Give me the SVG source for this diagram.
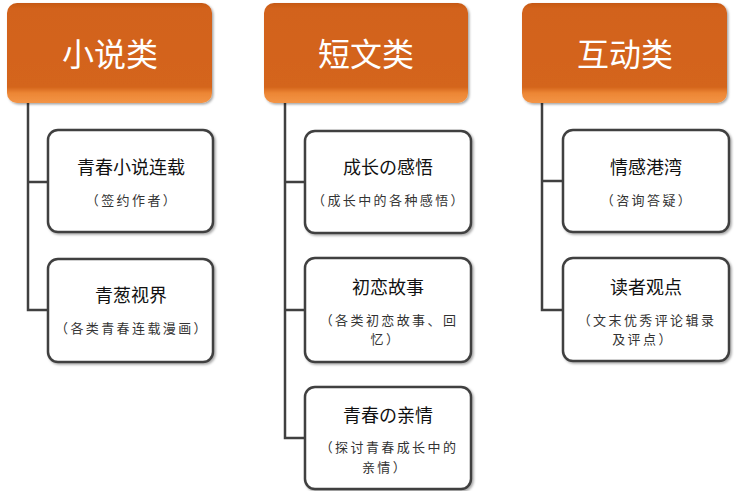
<svg xmlns="http://www.w3.org/2000/svg" width="734" height="491" viewBox="0 0 734 491">
<defs>
<linearGradient id="hg" x1="0" y1="0" x2="0" y2="1">
<stop offset="0" stop-color="#C55815"/>
<stop offset="0.05" stop-color="#D2621A"/>
<stop offset="0.84" stop-color="#D4651B"/>
<stop offset="0.9" stop-color="#EC8634"/>
<stop offset="1" stop-color="#F39446"/>
</linearGradient>
<filter id="sh" x="-10%" y="-10%" width="120%" height="130%">
<feDropShadow dx="1.5" dy="1.5" stdDeviation="1.2" flood-color="#000" flood-opacity="0.35"/>
</filter>
</defs>
<style>
.hd{fill:url(#hg);filter:url(#sh);}
.ht{font-family:"Noto Sans CJK SC","Noto Sans",sans-serif;font-size:32px;fill:#fff;text-anchor:middle;}
.bx{fill:#fff;stroke:#404040;stroke-width:2.5;filter:url(#sh);}
.t{font-family:"Noto Sans CJK SC","Noto Sans",sans-serif;font-size:18px;fill:#111;text-anchor:middle;}
.s{font-family:"Noto Sans CJK SC","Noto Sans",sans-serif;font-size:13px;fill:#333;text-anchor:middle;letter-spacing:2.4px;}
.c{fill:none;stroke:#404040;stroke-width:2.5;}
</style>
<g id="connectors">
<path class="c" d="M28,103 V310 H48 M28,182 H48"/>
<path class="c" d="M285,103 V438 H305 M285,182 H305 M285,310 H305"/>
<path class="c" d="M542,103 V310 H563 M542,181 H563"/>
</g>
<g id="h1"><rect class="hd" x="7" y="3" width="205" height="100" rx="10"/><text class="ht" x="110" y="66">小说类</text></g>
<g id="h2"><rect class="hd" x="264" y="3" width="204" height="100" rx="10"/><text class="ht" x="366" y="66">短文类</text></g>
<g id="h3"><rect class="hd" x="522" y="3" width="205" height="100" rx="10"/><text class="ht" x="625" y="66">互动类</text></g>
<g id="n1"><rect class="bx" x="48" y="130" width="165" height="102" rx="10"/><text class="t" x="131" y="174">青春小说连载</text><text class="s" x="132" y="205">（签约作者）</text></g>
<g id="n2"><rect class="bx" x="48" y="259" width="165" height="103" rx="10"/><text class="t" x="131" y="302">青葱视界</text><text class="s" x="132" y="333">（各类青春连载漫画）</text></g>
<g id="n3"><rect class="bx" x="305" y="131" width="166" height="102" rx="10"/><text class="t" x="388" y="174">成长の感悟</text><text class="s" x="389" y="205">（成长中的各种感悟）</text></g>
<g id="n4"><rect class="bx" x="305" y="258" width="166" height="104" rx="10"/><text class="t" x="388" y="294">初恋故事</text><text class="s" x="389" y="325">（各类初恋故事、回</text><text class="s" x="386" y="344">忆）</text></g>
<g id="n5"><rect class="bx" x="305" y="387" width="166" height="102" rx="10"/><text class="t" x="388" y="422">青春の亲情</text><text class="s" x="389" y="452">（探讨青春成长中的</text><text class="s" x="385" y="472">亲情）</text></g>
<g id="n6"><rect class="bx" x="563" y="130" width="166" height="102" rx="10"/><text class="t" x="646" y="174">情感港湾</text><text class="s" x="647" y="205">（咨询答疑）</text></g>
<g id="n7"><rect class="bx" x="563" y="258" width="166" height="103" rx="10"/><text class="t" x="646" y="294">读者观点</text><text class="s" x="647" y="325">（文末优秀评论辑录</text><text class="s" x="643" y="344">及评点）</text></g>
</svg>
